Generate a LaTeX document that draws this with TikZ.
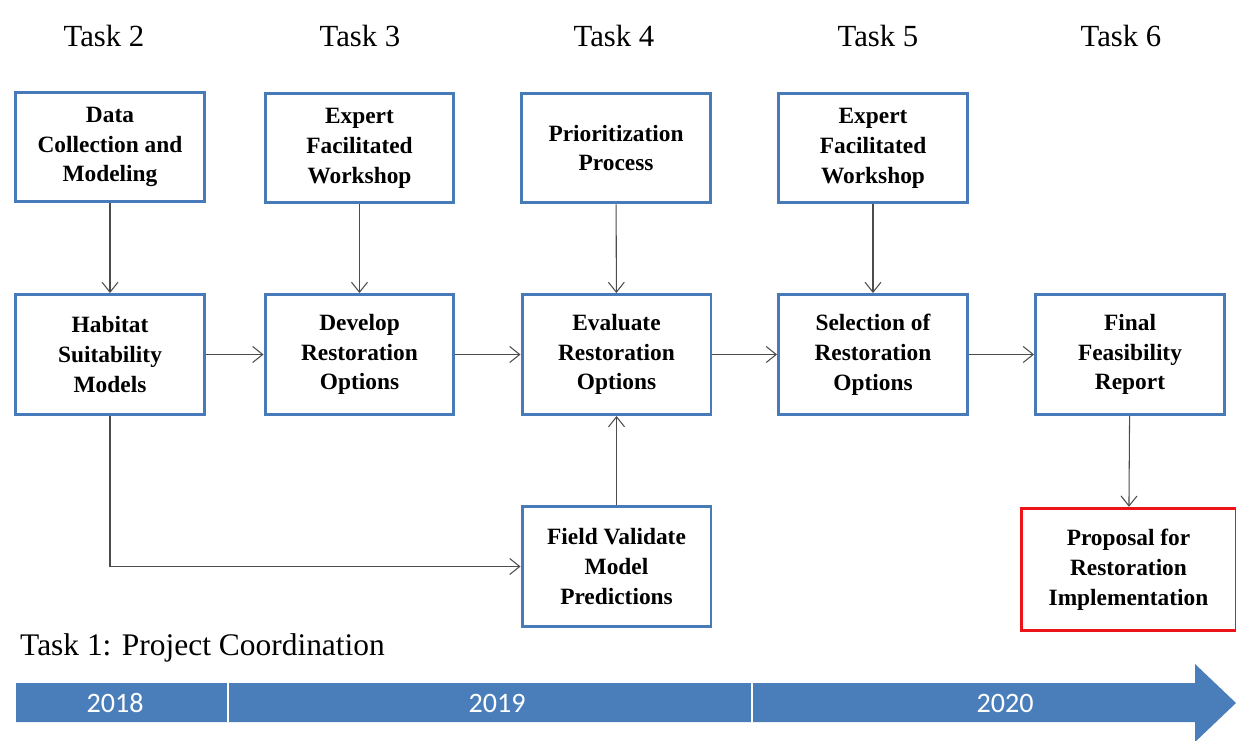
\documentclass[tikz,border=0pt]{standalone}
\usepackage{fontspec}
\setmainfont{Liberation Serif}
\newfontfamily\yearfont{Carlito}
\usepackage{tikz}
\usetikzlibrary{arrows.meta}
\definecolor{boxblue}{RGB}{72,122,186}
\definecolor{barblue}{RGB}{74,126,187}
\definecolor{propred}{RGB}{236,20,24}
\tikzset{
  box/.style={draw=boxblue,line width=1.7pt,minimum width=3.78cm,minimum height=2.4cm,
    align=center,font=\fontsize{13.3}{17}\selectfont\bfseries},
  topbox/.style={box,minimum height=2.2cm},
  flow/.style={-{Straight Barb[length=2mm,width=3.2mm]},draw=black!70,line width=0.6pt},
  task/.style={font=\fontsize{17.5}{20}\selectfont},
  year/.style={text=white,font=\yearfont\fontsize{16}{18}\selectfont}
}
\begin{document}
\begin{tikzpicture}[x=0.02cm,y=-0.02cm]
  \useasboundingbox (0,0) rectangle (1236,740);

  % task headings
  \node[task] (t2) at (104,36) {Task 2};
  \node[task] (t3) at (360,36) {Task 3};
  \node[task] (t4) at (614,36) {Task 4};
  \node[task] (t5) at (878,36) {Task 5};
  \node[task] (t6) at (1121,36) {Task 6};

  % first row
  \node[topbox] (data)  at (110,147)   {Data\\Collection and\\Modeling};
  \node[topbox] (exp3)  at (359.5,148) {Expert\\Facilitated\\Workshop};
  \node[topbox] (prio)  at (616,148)   {Prioritization\\Process};
  \node[topbox] (exp5)  at (873,148)   {Expert\\Facilitated\\Workshop};

  % second row
  \node[box] (hab)   at (110,354.5)   {Habitat\\Suitability\\Models};
  \node[box] (dev)   at (359.5,354.5) {Develop\\Restoration\\Options};
  \node[box] (eval)  at (616.5,354.5) {Evaluate\\Restoration\\Options};
  \node[box] (sel)   at (873,354.5)   {Selection of\\Restoration\\Options};
  \node[box] (final) at (1130,354.5)  {Final\\Feasibility\\Report};

  % third row
  \node[box] (field) at (616.5,566.5) {Field Validate\\Model\\Predictions};
  \node[box,draw=propred,minimum width=4.3cm,minimum height=2.45cm]
    (prop) at (1128.5,569.5) {Proposal for\\Restoration\\Implementation};

  % connectors
  \draw[flow] (data) -- (hab);
  \draw[flow] (exp3) -- (dev);
  \draw[flow] (prio) -- (eval);
  \draw[flow] (exp5) -- (sel);
  \draw[flow] (hab) -- (dev);
  \draw[flow] (dev) -- (eval);
  \draw[flow] (eval) -- (sel);
  \draw[flow] (sel) -- (final);
  \draw[flow] (final) -- (prop);
  \draw[flow] (field) -- (eval);
  \draw[flow] (hab.south) |- (field.west);

  % time line
  \node[task,anchor=west,font=\fontsize{17.9}{20}\selectfont] (t1) at (14,648)
    {Task 1: Project Coordination};
  \fill[barblue] (16,683) -- (1195,683) -- (1195,664) -- (1236,703)
    -- (1195,742) -- (1195,722) -- (16,722) -- cycle;
  \draw[white,line width=0.8pt] (228,683) -- (228,722) (752,683) -- (752,722);
  \node[year] (y18) at (115,703)  {2018};
  \node[year] (y19) at (497,703)  {2019};
  \node[year] (y20) at (1005,703) {2020};
\end{tikzpicture}
\end{document}
